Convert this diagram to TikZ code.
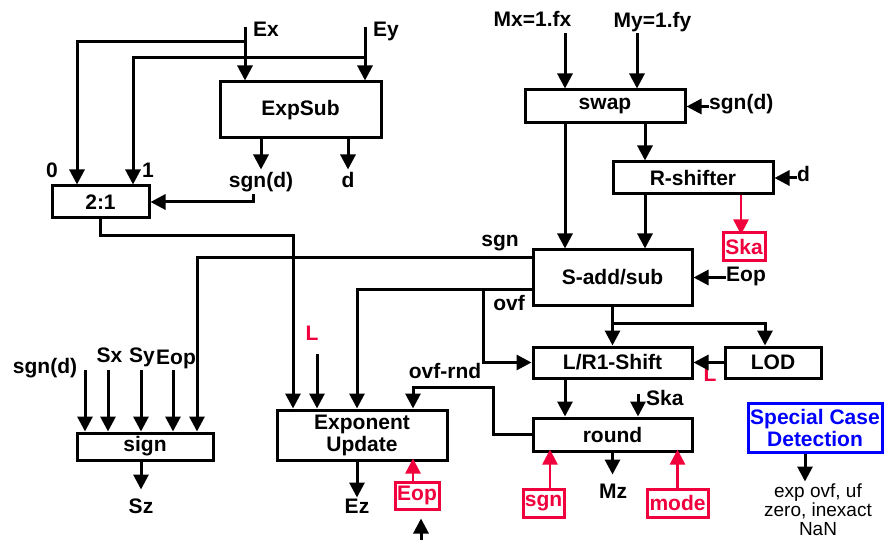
\documentclass[tikz,border=0pt]{standalone}
\usepackage{fontspec}
\setmainfont{Liberation Sans}
\usetikzlibrary{arrows.meta}
\definecolor{myred}{RGB}{240,0,60}
\newcommand\myfnt{\fontsize{21}{22}\selectfont\bfseries}
\newcommand\myreg{\fontsize{19}{19}\selectfont}
\begin{document}
\begin{tikzpicture}[x=1pt,y=-1pt,
 arr/.style={line width=3pt,-{Triangle[length=15pt,width=15pt]}},
 rarr/.style={arr,color=myred,line width=2.6pt},
 box/.style={draw,line width=3pt,inner sep=0pt,font=\myfnt,align=center},
 rbox/.style={box,draw=myred,text=myred},
 bbox/.style={box,draw=blue,text=blue},
 lbl/.style={inner sep=0pt,font=\myfnt},
 rlbl/.style={lbl,text=myred}]
\fill[white] (0,0) rectangle (884,540);
\useasboundingbox (0,0) rectangle (884,540);

% boxes
\node[box,minimum width=161pt,minimum height=56pt] (expsub) at (300.5,110) {ExpSub};
\node[box,minimum width=97pt,minimum height=32pt] (mux) at (100.5,202) {2:1};
\node[box,minimum width=160pt,minimum height=33pt] (swap) at (605,106.5) {swap};
\node[box,minimum width=160pt,minimum height=32pt] (rshift) at (693,178) {R-shifter};
\node[box,minimum width=159pt,minimum height=55pt] (sadd) at (612.5,277.5) {S-add/sub};
\node[box,minimum width=159pt,minimum height=31pt] (lr1) at (612.5,362.5) {L/R1-Shift};
\node[box,minimum width=96pt,minimum height=31pt] (lod) at (773,362.5) {LOD};
\node[box,minimum width=159pt,minimum height=33pt] (round) at (612.5,434.5) {round};
\node[box,minimum width=170pt,minimum height=50pt] (expupd) at (362,435) {Exponent\\Update};
\node[box,minimum width=136pt,minimum height=27pt] (sign) at (145,446.5) {sign};
\node[rbox,minimum width=42pt,minimum height=28pt] (ska) at (744,247) {Ska};
\node[rbox,minimum width=44pt,minimum height=27pt] (eop) at (417,495.5) {Eop};
\node[rbox,minimum width=41pt,minimum height=28pt] (sgnr) at (543.5,503) {sgn};
\node[rbox,minimum width=61pt,minimum height=28pt] (mode) at (677.5,503) {mode};
\node[bbox,minimum width=134pt,minimum height=49pt] (scd) at (815,427.5) {Special Case\\Detection};

% labels
\node[lbl,anchor=base west] (lEx) at (253,37) {Ex};
\node[lbl,anchor=base west] (lEy) at (373,37) {Ey};
\node[lbl,anchor=base] (lMx) at (532.5,27) {Mx=1.fx};
\node[lbl,anchor=base] (lMy) at (652.5,28) {My=1.fy};
\node[lbl,anchor=base] (l0) at (52,178) {0};
\node[lbl,anchor=base] (l1) at (148,178) {1};
\node[lbl,anchor=base] (lsd1) at (261,188) {sgn(d)};
\node[lbl,anchor=base] (ld1) at (348,188) {d};
\node[lbl,anchor=base west] (lsd2) at (709,110) {sgn(d)};
\node[lbl,anchor=base west] (ld2) at (797,182) {d};
\node[lbl,anchor=base] (lsgn) at (500,247) {sgn};
\node[lbl,anchor=base west] (lEop1) at (726,282) {Eop};
\node[lbl,anchor=base] (lovf) at (509,310) {ovf};
\node[rlbl,anchor=base] (lLr) at (710,381) {L};
\node[lbl,anchor=base west] (lSka) at (646,405) {Ska};
\node[lbl,anchor=base] (lMz) at (613,498) {Mz};
\node[lbl,anchor=base] (lovfr) at (445,378) {ovf-rnd};
\node[rlbl,anchor=base] (lL) at (312,341) {L};
\node[lbl,anchor=base] (lsd3) at (45,373) {sgn(d)};
\node[lbl,anchor=base] (lSx) at (109.5,362) {Sx};
\node[lbl,anchor=base] (lSy) at (142,362) {Sy};
\node[lbl,anchor=base] (lEop2) at (176,364) {Eop};
\node[lbl,anchor=base] (lSz) at (141,513) {Sz};
\node[lbl,anchor=base] (lEz) at (357,513) {Ez};
\node[inner sep=0pt,font=\myreg,align=center,anchor=north] (res) at (818,484) {exp ovf, uf\\zero, inexact\\NaN};

% coordinates
\coordinate (exin) at (245,27);
\coordinate (eyin) at (365,27);
\coordinate (sdm) at (253,194);
\coordinate (ovfr) at (493,387);
\coordinate (botin) at (421,545);

% exponent path
\draw[arr] (exin) -- ([xshift=-55.5]expsub.north);
\draw[arr] (eyin) -- ([xshift=64.5]expsub.north);
\draw[arr] ([yshift=-15pt]exin) -| ([xshift=-23.5]mux.north);
\draw[arr] ([yshift=-31pt]eyin) -| ([xshift=32.5]mux.north);
\draw[arr] ([xshift=-39.5]expsub.south) -- ++(0,30);
\draw[arr] ([xshift=47.5]expsub.south) -- ++(0,30);
\draw[arr] (sdm) |- (mux.east);
\draw[arr] (mux.south) -- ++(0,16) -| ([xshift=-69]expupd.north);

% mantissa path
\draw[arr] ([xshift=-40,yshift=55pt]swap.north) -- ([xshift=-40]swap.north);
\draw[arr] ([xshift=32,yshift=55pt]swap.north) -- ([xshift=32]swap.north);
\draw[arr] (lsd2.west |- swap.east) -- (swap.east);
\draw[arr] ([xshift=-40]swap.south) -- ([xshift=-47.5]sadd.north);
\draw[arr] ([xshift=40]swap.south) -- ([xshift=-48]rshift.north);
\draw[arr] (ld2.west |- rshift.east) -- (rshift.east);
\draw[arr] ([xshift=-48]rshift.south) -- ([xshift=32.5]sadd.north);
\draw[rarr] ([xshift=48]rshift.south) -- ++(0,39);
\draw[arr] (lEop1.west |- sadd.east) -- (sadd.east);
\draw[arr] ([yshift=19.5pt]sadd.west) -| ([xshift=52]sign.north);
\draw[arr] ([yshift=-12.5pt]sadd.west) -| ([xshift=-5]expupd.north);
\draw[arr] ([xshift=-48,yshift=-12.5pt]sadd.west) |- (lr1.west);
\draw[arr] (sadd.south) -- (lr1.north);
\draw[arr] ([yshift=-17pt]sadd.south) -| ([xshift=-8]lod.north);
\draw[arr] (lod.west) -- (lr1.east);
\draw[arr] ([xshift=-47.5]lr1.south) -- ([xshift=-47.5]round.north);
\draw[arr] ([xshift=25.5,yshift=23pt]round.north) -- ([xshift=25.5]round.north);
\draw[arr] (round.west) -| (ovfr) -| ([xshift=51]expupd.north);
\draw[arr] (round.south) -- ++(0,22);
\draw[rarr] ([xshift=6.5]sgnr.north) -- ++(0,-38);
\draw[rarr] (mode.north) -- ++(0,-38);

% sign
\foreach \dx in {-60,-37,-4,28}
  \draw[arr] ([xshift=\dx,yshift=62pt]sign.north) -- ([xshift=\dx]sign.north);
\draw[arr] ([xshift=-4]sign.south) -- ++(0,28);

% exponent update
\draw[arr] ([xshift=-45,yshift=55pt]expupd.north) -- ([xshift=-45]expupd.north);
\draw[arr] ([xshift=-5]expupd.south) -- ++(0,36);
\draw[rarr] ([xshift=-4]eop.north) -- ++(0,-22);
\draw[arr] (botin) -- ([xshift=4pt,yshift=-8pt]eop.south);

% special case
\draw[arr] ([xshift=-10]scd.south) -- ++(0,28);
\end{tikzpicture}
\end{document}
